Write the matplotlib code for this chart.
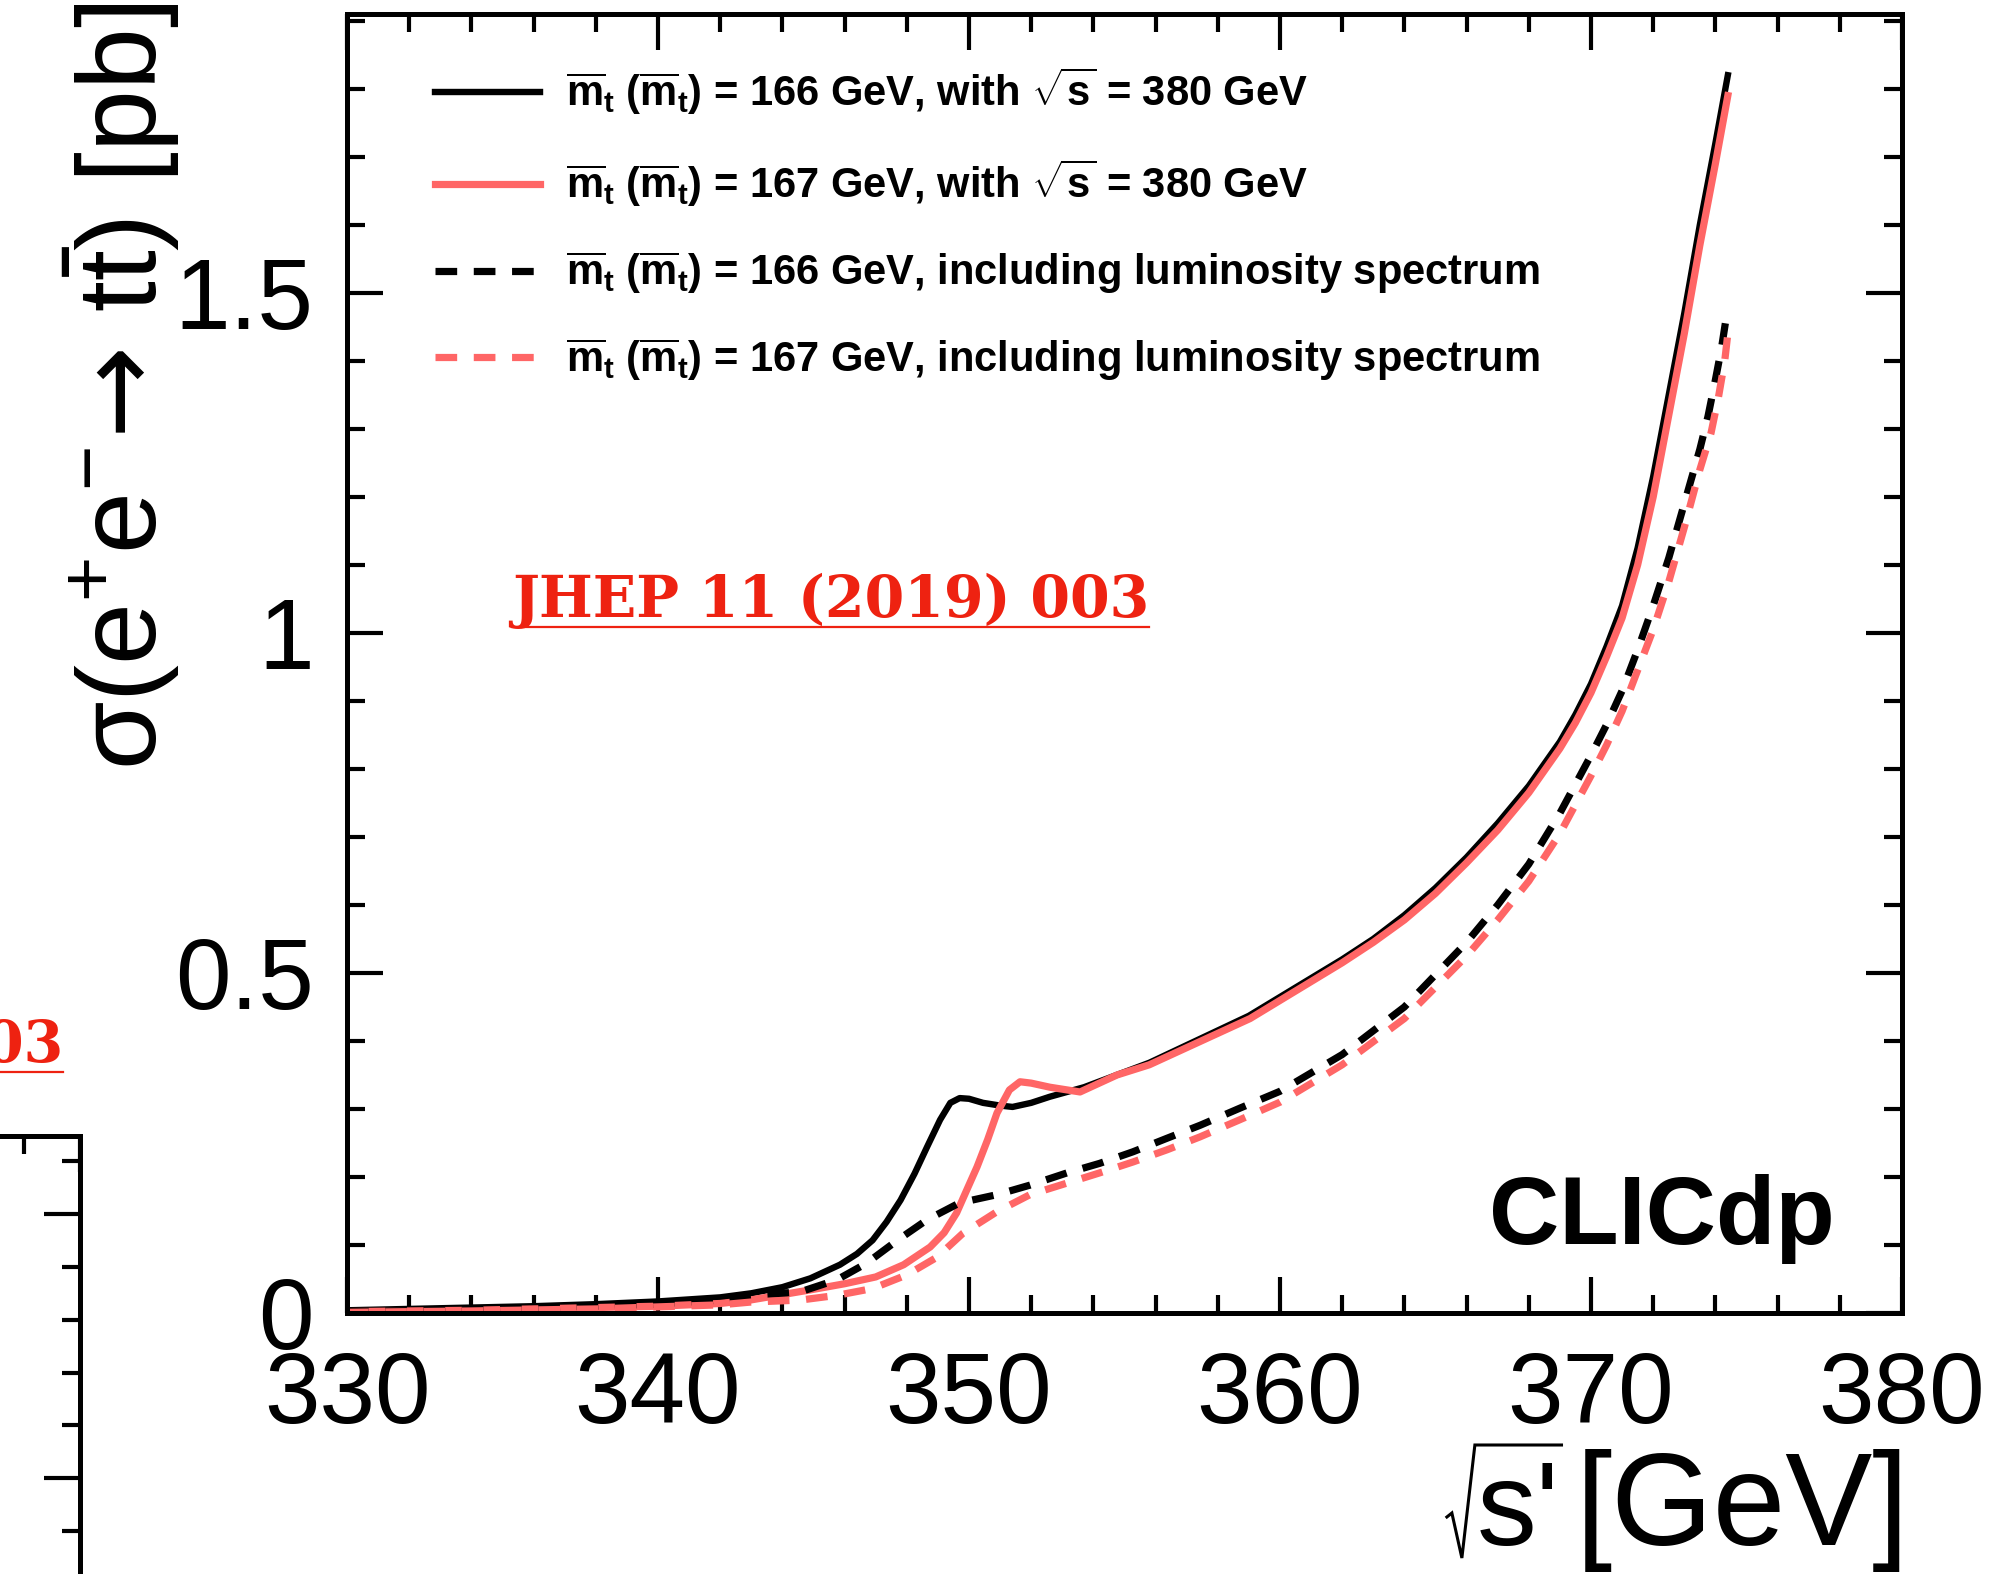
import matplotlib
matplotlib.use("Agg")
import matplotlib.pyplot as plt
from matplotlib import font_manager
from matplotlib.font_manager import FontProperties
from matplotlib.ticker import MultipleLocator, FuncFormatter
from matplotlib.lines import Line2D

installed = {f.name for f in font_manager.fontManager.ttflist}
narrow = "Liberation Sans Narrow" if "Liberation Sans Narrow" in installed else "Liberation Sans"

plt.rcParams["font.family"] = ["Liberation Sans", "DejaVu Sans"]
plt.rcParams["mathtext.fontset"] = "custom"
plt.rcParams["mathtext.rm"] = "Liberation Sans"
plt.rcParams["mathtext.it"] = "Liberation Sans"
plt.rcParams["mathtext.sf"] = "DejaVu Sans"
plt.rcParams["mathtext.bf"] = narrow + ":bold"

# m_t = 166 GeV, sqrt(s) = 380 GeV
bs_x = [330, 332, 334, 336, 338, 340, 342, 343, 344, 344.9, 345.85, 346.4, 346.9, 347.35,
        347.8, 348.25, 348.65, 349.07, 349.4, 349.7, 350.0, 350.45, 351.0, 351.4, 352.0,
        352.6, 353.7, 355.8, 359.0, 362, 363, 364, 365, 366, 367, 368, 369, 369.5, 370,
        370.5, 371, 371.5, 372, 372.5, 373, 373.5, 374, 374.4]
bs_y = [0.004, 0.006, 0.008, 0.010, 0.013, 0.017, 0.023, 0.029, 0.038, 0.051, 0.071, 0.087,
        0.107, 0.134, 0.166, 0.205, 0.244, 0.284, 0.309, 0.316, 0.315, 0.309, 0.305, 0.303,
        0.309, 0.318, 0.332, 0.368, 0.437, 0.52, 0.55, 0.585, 0.625, 0.67, 0.72, 0.775,
        0.84, 0.88, 0.925, 0.98, 1.04, 1.125, 1.23, 1.35, 1.47, 1.60, 1.72, 1.82]

# m_t = 167 GeV, sqrt(s) = 380 GeV
rs_x = [330, 334, 338, 340, 342, 342.96, 344.9, 346.0, 347.0, 347.9, 348.75, 349.2, 349.6,
        349.9, 350.26, 350.6, 350.9, 351.3, 351.64, 352.0, 352.6, 353.57, 354.76, 355.8,
        359.04, 362, 363, 364, 365, 366, 367, 368, 369, 369.5, 370, 370.5, 371, 371.5,
        372, 372.5, 373, 373.5, 374, 374.4]
rs_y = [0.002, 0.004, 0.008, 0.010, 0.014, 0.019, 0.034, 0.043, 0.053, 0.071, 0.097, 0.118,
        0.147, 0.178, 0.215, 0.255, 0.294, 0.328, 0.340, 0.338, 0.332, 0.325, 0.350, 0.365,
        0.433, 0.515, 0.545, 0.578, 0.617, 0.662, 0.71, 0.765, 0.83, 0.868, 0.912, 0.965,
        1.022, 1.10, 1.20, 1.32, 1.44, 1.57, 1.69, 1.79]

# m_t = 166 GeV, with luminosity spectrum
bd_x = [330, 334, 338, 340, 342, 342.96, 344.57, 345.76, 346.7, 347.7, 348.65, 349.7, 350.9,
        351.96, 353.15, 354.2, 355.27, 356.37, 357.43, 358.7, 360, 362, 364, 366, 367, 368,
        369, 370, 370.5, 371, 371.5, 372, 372.5, 373, 373.5, 373.76, 374.0, 374.2, 374.4]
bd_y = [0.002, 0.005, 0.010, 0.013, 0.019, 0.026, 0.031, 0.049, 0.073, 0.107, 0.137, 0.162,
        0.174, 0.188, 0.206, 0.220, 0.237, 0.257, 0.276, 0.301, 0.326, 0.38, 0.45, 0.545,
        0.60, 0.66, 0.735, 0.82, 0.865, 0.915, 0.975, 1.04, 1.11, 1.19, 1.27, 1.318, 1.372,
        1.42, 1.479]

# m_t = 167 GeV, with luminosity spectrum
rd_x = [330, 334, 338, 340, 342, 342.96, 344.57, 345.76, 346.9, 348.0, 348.97, 349.8, 350.9,
        351.96, 353.15, 354.2, 355.27, 356.37, 357.43, 358.7, 360, 362, 364, 366, 367, 368,
        369, 370, 370.5, 371, 371.5, 372, 372.5, 373, 373.5, 373.86, 374.1, 374.3, 374.4]
rd_y = [0.001, 0.003, 0.006, 0.009, 0.012, 0.016, 0.019, 0.026, 0.036, 0.056, 0.082, 0.117,
        0.149, 0.174, 0.191, 0.206, 0.222, 0.240, 0.259, 0.284, 0.31, 0.365, 0.433, 0.525,
        0.578, 0.635, 0.705, 0.79, 0.835, 0.885, 0.945, 1.005, 1.075, 1.155, 1.24, 1.294,
        1.347, 1.40, 1.44]

mt = r"$\mathbf{\overline{m}_{t}\ (\overline{m}_{t})}$"
labels = [mt + " = 166 GeV, with " + r"$\mathbf{\sqrt{s}}$" + " = 380 GeV",
          mt + " = 167 GeV, with " + r"$\mathbf{\sqrt{s}}$" + " = 380 GeV",
          mt + " = 166 GeV, including luminosity spectrum",
          mt + " = 167 GeV, including luminosity spectrum"]

red = "#ff6666"
ref_text = "JHEP 11 (2019) 003"
ref_color = "#ee2211"

W, H = 1994, 1574
DPI = 100
fig = plt.figure(figsize=(W / DPI, H / DPI), dpi=DPI)


def style_axes(a):
    for s in a.spines.values():
        s.set_linewidth(3.6)
    a.xaxis.set_major_locator(MultipleLocator(10))
    a.xaxis.set_minor_locator(MultipleLocator(2))
    a.yaxis.set_major_locator(MultipleLocator(0.5))
    a.yaxis.set_minor_locator(MultipleLocator(0.1))
    a.tick_params(which="both", direction="in", top=True, right=True, width=3, labelsize=72)
    a.tick_params(which="major", length=26)
    a.tick_params(which="minor", length=13)


# cropped neighbouring panel at lower left
ax2 = fig.add_axes([-1320 / W, -0.1068, 1400 / W, 0.385])
style_axes(ax2)
ax2.set_xlim(330, 380)
ax2.set_ylim(0, 1.148)
ax2.tick_params(labelleft=False, labelbottom=False)

ax = fig.add_axes([347 / W, 1 - 1313 / H, 1555 / W, 1299 / H])
style_axes(ax)
ax.set_xlim(330, 380)
ax.set_ylim(0, 1.91)
ax.tick_params(axis="x", which="major", pad=27)
ax.tick_params(axis="y", which="major", pad=24)
ax.yaxis.set_major_formatter(FuncFormatter(lambda v, p: f"{v:g}"))

dash = (3.0, 2.3)
ax.plot(bs_x, bs_y, color="black", lw=4.6, label=labels[0])
ax.plot(rs_x, rs_y, color=red, lw=5.2, label=labels[1])
ax.plot(bd_x, bd_y, color="black", lw=5.2, ls=(0, dash), label=labels[2])
ax.plot(rd_x, rd_y, color=red, lw=5.2, ls=(0, dash), label=labels[3])

leg_font = FontProperties(family=narrow, weight="bold", size=30)
ax.legend(loc="upper left", bbox_to_anchor=(0.0566, 0.960), frameon=False, prop=leg_font,
          handlelength=2.52, handletextpad=0.62, labelspacing=0.97, borderaxespad=0,
          borderpad=0)

ax.text(0.957, 0.053, "CLICdp", transform=ax.transAxes, ha="right", va="baseline",
        fontsize=70, fontweight="bold")

fig.text(157 / W, 1 - 3 / H,
         r"$\sigma(\mathrm{e^{+}e^{-}}\!\mathsf{\rightarrow}\,\mathrm{t\bar{t}})$ [pb]",
         rotation=90, rotation_mode="anchor", ha="right", va="baseline", fontsize=80)

# x title: "s' [GeV]" with a hand-drawn radical sign
base_px = 29
t_gev = fig.text(1909 / W, base_px / H, "[GeV]", ha="right", va="baseline", fontsize=94)
t_s = fig.text(0, base_px / H, "s'", ha="right", va="baseline", fontsize=86)

# reference tags with underline
tags = [fig.text(512 / W, 1 - 617 / H, ref_text, ha="left", va="baseline",
                 family="DejaVu Serif", fontweight="bold", fontsize=41, color=ref_color),
        fig.text(63 / W, 1 - 1062 / H, ref_text, ha="right", va="baseline",
                 family="DejaVu Serif", fontweight="bold", fontsize=41, color=ref_color)]
fig.canvas.draw()
renderer = fig.canvas.get_renderer()
for t in tags:
    bb = t.get_window_extent(renderer)
    y = t.get_position()[1] - 10 / H
    fig.add_artist(Line2D([bb.x0 / W, bb.x1 / W], [y, y], color=ref_color, lw=1.6))

gev_x0 = t_gev.get_window_extent(renderer).x0
t_s.set_x((gev_x0 - 16) / W)
sb = t_s.get_window_extent(renderer)
xs = sb.x0
rad_px = [(xs - 30, base_px + 28), (xs - 25, base_px + 32), (xs - 15, base_px - 13),
          (xs - 2, base_px + 100), (sb.x1 + 2, base_px + 100)]
fig.add_artist(Line2D([p[0] / W for p in rad_px], [p[1] / H for p in rad_px],
                      color="black", lw=2.2, solid_joinstyle="miter"))

fig.savefig("out.png", dpi=DPI)
